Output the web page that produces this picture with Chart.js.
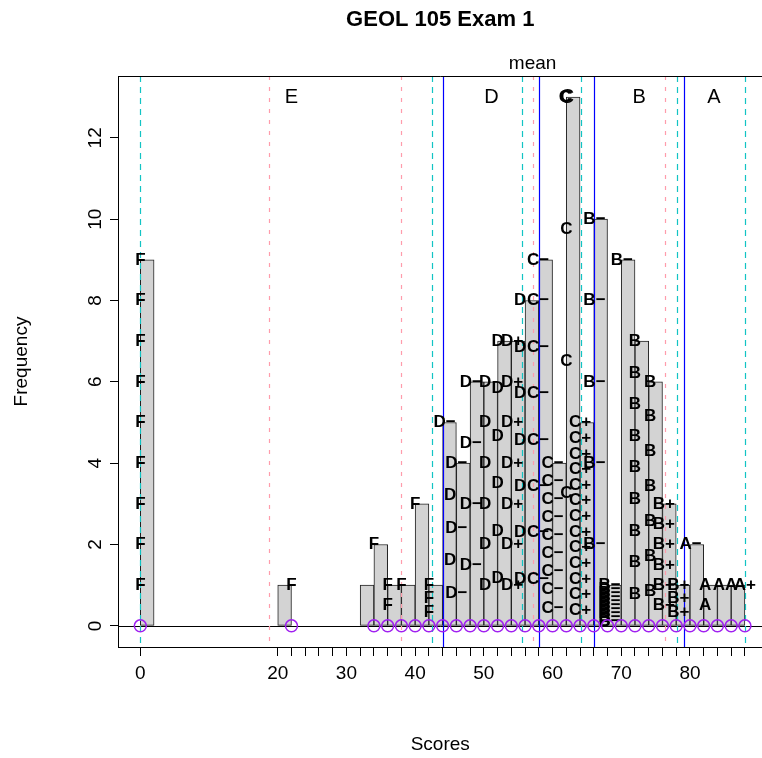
<!DOCTYPE html>
<html>
<head>
<meta charset="utf-8">
<script src="https://cdn.jsdelivr.net/npm/chart.js@4.4.1/dist/chart.umd.min.js"></script>
<style>
  html, body { margin: 0; padding: 0; background: #fff; overflow: hidden; }
  #wrap { width: 770px; height: 758px; }
</style>
</head>
<body>
<div id="wrap"><canvas id="js--chart--1" width="770" height="758"></canvas></div>
<script>
// 2-point bins: right edge of each bin and how many scores in it
const binEnds = [2, 22, 34, 36, 38, 40, 42, 44, 46, 48, 50, 52, 54, 56, 58, 60, 62, 64, 66, 68, 70, 72, 74, 76, 78, 80, 82, 84, 86, 88];
const binCounts = [9, 1, 1, 2, 1, 1, 3, 1, 5, 4, 6, 6, 7, 7, 8, 9, 4, 13, 5, 10, 1, 9, 7, 6, 3, 1, 2, 1, 1, 1];

// purple circles on the zero line
const rugScores = [0, 22, 34, 36, 38, 40, 42, 44, 46, 48, 50, 52, 54, 56, 58, 60, 62, 64, 66, 68, 70, 72, 74, 76, 78, 80, 82, 84, 86, 88];

const meanScore = 57.1;
const sdLines = [18.7, 37.9, 57.1, 76.4];          // pink dashed
const quantLines = [0, 42.5, 55.6, 64.1, 78.1, 88]; // cyan dashed
const cutLines = [44.1, 58.1, 66.1, 79.1];          // blue solid

const gradeNames = ["E", "D", "C", "B", "A"];
const gradeCenters = [22, 51.1, 62.1, 72.6, 83.5];

const xTicks = [0, 20, 22, 24, 26, 28, 30, 32, 34, 36, 38, 40, 42, 44, 46, 48, 50, 52, 54, 56, 58, 60, 62, 64, 66, 68, 70, 72, 74, 76, 78, 80, 82, 84, 86, 88];
const xTickLabels = [0, 20, 30, 40, 50, 60, 70, 80];
const yTicks = [0, 2, 4, 6, 8, 10, 12];

// letter grade of each student, stacked over the bars
const labelText = ["F", "F", "F", "F", "F", "F", "F", "D−", "D−", "D", "D−", "D", "D", "D+", "D", "C−", "C−", "C", "C", "C+", "B−", "B−", "B−", "B", "B", "B+", "B+", "A−", "A", "A", "A", "A+"];
const labelX = [0, 22, 34, 36, 38, 40, 42, 44.3, 46, 45.1, 48.1, 50.2, 52, 54.1, 55.3, 57.9, 60, 62, 61.8, 64, 66.1, 68.3, 70.1, 72, 74.2, 76.2, 78.3, 80.1, 82.2, 84.2, 86, 88];
const labelY = [
    [1, 2, 3, 4, 5, 6, 7, 8, 9],
    [1],
    [2],
    [0.5, 1],
    [1],
    [3],
    [0.33, 0.67, 1],
    [5],
    [0.8, 2.4, 4],
    [1.6, 3.2],
    [1.5, 3, 4.5, 6],
    [1, 2, 3, 4, 5, 6],
    [1.17, 2.33, 3.5, 4.67, 5.83, 7],
    [1, 2, 3, 4, 5, 6, 7],
    [1.14, 2.29, 3.43, 4.57, 5.71, 6.86, 8],
    [1.14, 2.29, 3.43, 4.57, 5.71, 6.86, 8, 9],
    [0.44, 0.89, 1.33, 1.78, 2.22, 2.67, 3.11, 3.56, 4],
    [3.25, 6.5, 9.75, 13],
    [13],
    [0.38, 0.77, 1.15, 1.54, 1.92, 2.31, 2.69, 3.08, 3.46, 3.85, 4.23, 4.62, 5],
    [2, 4, 6, 8, 10],
    [0.1, 0.2, 0.3, 0.4, 0.5, 0.6, 0.7, 0.8, 0.9, 1],
    [9],
    [0.78, 1.56, 2.33, 3.11, 3.89, 4.67, 5.44, 6.22, 7],
    [0.86, 1.71, 2.57, 3.43, 4.29, 5.14, 6],
    [0.5, 1, 1.5, 2, 2.5, 3],
    [0.33, 0.67, 1],
    [2],
    [0.5, 1],
    [1],
    [1],
    [1]
];

const FONT = "'Liberation Sans', Arial, sans-serif";

function vline(ctx, area, x, color, dash) {
    ctx.save();
    ctx.strokeStyle = color;
    ctx.lineWidth = 1.2;
    ctx.setLineDash(dash);
    ctx.beginPath();
    ctx.moveTo(Math.round(x) + 0.5, area.top);
    ctx.lineTo(Math.round(x) + 0.5, area.bottom);
    ctx.stroke();
    ctx.restore();
}

const extras = {
    id: "extras",
    afterDatasetDraw(chart, args) {
        if (args.index !== 0) return;
        const ctx = chart.ctx, a = chart.chartArea;
        const xs = chart.scales.x, ys = chart.scales.y;

        // zero line across the plot
        ctx.save();
        ctx.strokeStyle = "#000";
        ctx.lineWidth = 1;
        const y0 = Math.round(ys.getPixelForValue(0)) + 0.5;
        ctx.beginPath();
        ctx.moveTo(a.left, y0);
        ctx.lineTo(a.right, y0);
        ctx.stroke();
        ctx.restore();

        sdLines.forEach(v => vline(ctx, a, xs.getPixelForValue(v), "#ff9cab", [4, 7]));
        quantLines.forEach(v => vline(ctx, a, xs.getPixelForValue(v), "#12c4c4", [6, 5]));
        cutLines.forEach(v => vline(ctx, a, xs.getPixelForValue(v), "#0000ff", []));

        ctx.save();
        ctx.fillStyle = "#000";
        ctx.textAlign = "center";
        ctx.textBaseline = "middle";
        ctx.font = "20px " + FONT;
        gradeNames.forEach((g, i) => {
            ctx.fillText(g, xs.getPixelForValue(gradeCenters[i]), ys.getPixelForValue(13));
        });
        ctx.font = "bold 17px " + FONT;
        labelText.forEach((t, i) => {
            labelY[i].forEach(v => {
                ctx.fillText(t, xs.getPixelForValue(labelX[i]), ys.getPixelForValue(v));
            });
        });
        ctx.restore();
    },
    afterDraw(chart) {
        const ctx = chart.ctx, a = chart.chartArea;
        const xs = chart.scales.x, ys = chart.scales.y;
        ctx.save();
        ctx.strokeStyle = "#000";
        ctx.lineWidth = 1;
        ctx.beginPath();
        ctx.moveTo(a.left, a.top + 0.5);
        ctx.lineTo(a.right, a.top + 0.5);
        ctx.stroke();

        ctx.fillStyle = "#000";
        ctx.textAlign = "center";
        ctx.textBaseline = "middle";
        ctx.font = "bold 22px " + FONT;
        ctx.fillText("GEOL 105 Exam 1", (a.left + a.right) / 2, 20);
        ctx.font = "19px " + FONT;
        ctx.fillText("mean", xs.getPixelForValue(meanScore), 64);
        ctx.fillText("Scores", (a.left + a.right) / 2, 745);

        ctx.save();
        ctx.translate(22, (a.top + a.bottom) / 2);
        ctx.rotate(-Math.PI / 2);
        ctx.fillText("Frequency", 0, 0);
        ctx.restore();

        yTicks.forEach(v => {
            ctx.save();
            ctx.translate(96, ys.getPixelForValue(v));
            ctx.rotate(-Math.PI / 2);
            ctx.fillText(String(v), 0, 0);
            ctx.restore();
        });
        ctx.restore();
    }
};

const config = {
    type: "bar",
    data: {
        datasets: [
            {
                type: "bar",
                data: binEnds.map((e, i) => ({ x: e - 1, y: binCounts[i] })),
                backgroundColor: "#d3d3d3",
                borderColor: "#222",
                borderWidth: 1,
                borderSkipped: false,
                barPercentage: 1,
                categoryPercentage: 1,
                order: 2
            },
            {
                type: "scatter",
                data: rugScores.map(s => ({ x: s, y: 0 })),
                pointStyle: "circle",
                pointRadius: 6,
                borderColor: "#a020f0",
                backgroundColor: "rgba(0,0,0,0)",
                borderWidth: 1.5,
                order: 1
            }
        ]
    },
    options: {
        responsive: false,
        animation: false,
        events: [],
        layout: { padding: { left: 0, right: 6, top: 76, bottom: 0 } },
        plugins: { legend: { display: false }, tooltip: { enabled: false } },
        scales: {
            x: {
                type: "linear",
                min: -3.25,
                max: 90.56,
                offset: false,
                afterBuildTicks: s => { s.ticks = xTicks.map(v => ({ value: v })); },
                afterFit: s => { s.height = 111; },
                grid: { offset: false, drawOnChartArea: false, color: "#000", tickLength: 9 },
                border: { color: "#000", width: 1 },
                ticks: {
                    autoSkip: false,
                    maxRotation: 0,
                    minRotation: 0,
                    padding: 6,
                    color: "#000",
                    font: { size: 19, family: FONT },
                    callback: v => xTickLabels.includes(v) ? String(v) : ""
                }
            },
            y: {
                min: -0.52,
                max: 13.52,
                afterBuildTicks: s => { s.ticks = yTicks.map(v => ({ value: v })); },
                afterFit: s => { s.width = 118; },
                grid: { drawOnChartArea: false, color: "#000", tickLength: 8 },
                border: { color: "#000", width: 1 },
                ticks: { display: false }
            }
        }
    },
    plugins: [extras]
};

const chart1 = new Chart(document.getElementById("js--chart--1"), config);
</script>
</body>
</html>
